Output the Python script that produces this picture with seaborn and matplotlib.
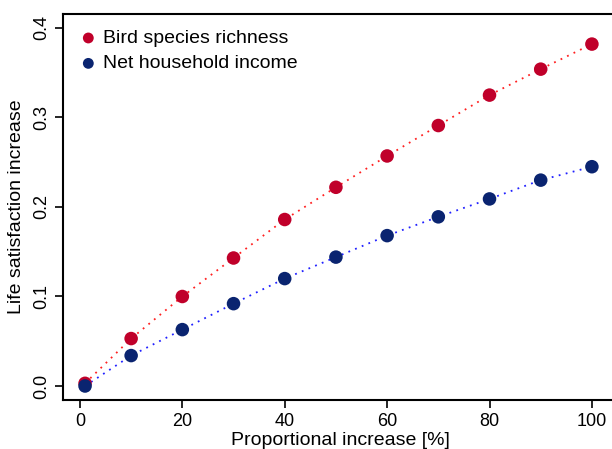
import pandas as pd
import matplotlib.pyplot as plt
import seaborn as sns

pct = [1, 10, 20, 30, 40, 50, 60, 70, 80, 90, 100]
bird = [0.003, 0.053, 0.100, 0.143, 0.186, 0.222, 0.257, 0.291, 0.325, 0.354, 0.382]
income = [0.000, 0.034, 0.063, 0.092, 0.120, 0.144, 0.168, 0.189, 0.209, 0.230, 0.245]
series_names = ["Bird species richness", "Net household income"]

sns.set_theme(style="ticks")
plt.rcParams["font.family"] = ["Liberation Sans", "DejaVu Sans"]
plt.rcParams["text.color"] = "black"
plt.rcParams["axes.labelcolor"] = "black"
plt.rcParams["xtick.color"] = "black"
plt.rcParams["ytick.color"] = "black"

df = pd.DataFrame({
    "pct": pct * 2,
    "val": bird + income,
    "series": [series_names[0]] * len(pct) + [series_names[1]] * len(pct),
})

marker_cols = {series_names[0]: "#C0002A", series_names[1]: "#0A2470"}
line_cols = {series_names[0]: "#FF2020", series_names[1]: "#2020FF"}

fig = plt.figure(figsize=(6.12, 4.49), dpi=100)
ax = fig.add_axes([0.103, 0.109, 0.906, 0.86])

for name in series_names:
    d = df[df["series"] == name]
    sns.lineplot(data=d, x="pct", y="val", ax=ax, color=line_cols[name],
                 linestyle=(0, (1, 3)), linewidth=1.3, legend=False)
    sns.scatterplot(data=d, x="pct", y="val", ax=ax, color=marker_cols[name],
                    s=95, edgecolor="none", label=name, zorder=3)

ax.set_xlim(-3.3, 105)
ax.set_ylim(-0.0157, 0.4157)
ax.set_xticks([0, 20, 40, 60, 80, 100])
ax.set_yticks([0.0, 0.1, 0.2, 0.3, 0.4])
ax.set_yticklabels(["0.0", "0.1", "0.2", "0.3", "0.4"], rotation=90, va="center")
ax.tick_params(labelsize=13, length=6, width=1.2, color="black")
ax.set_xlabel("Proportional increase [%]", fontsize=14, labelpad=1)
ax.set_ylabel("Life satisfaction increase", fontsize=14, labelpad=6)
for s in ax.spines.values():
    s.set_linewidth(1.5)
    s.set_color("black")

ax.legend(loc="upper left", frameon=False, fontsize=14, handletextpad=0.25,
          handlelength=1.0, borderaxespad=0.4, labelspacing=0.4,
          markerscale=0.8, borderpad=0.4)

fig.savefig("out.png", dpi=100)
